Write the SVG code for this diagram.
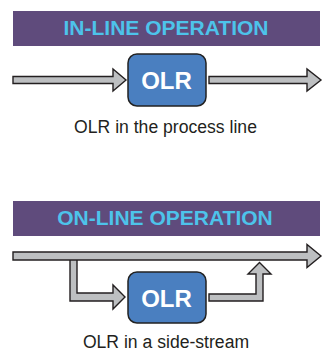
<svg xmlns="http://www.w3.org/2000/svg" width="329" height="352" viewBox="0 0 329 352">
<style>
.banner{fill:#5f4b7c}
.btxt{fill:#4dc3ea;font-family:"Liberation Sans",Arial,sans-serif;font-weight:bold;font-size:21px;text-anchor:middle}
.box{fill:#4a7fc0;stroke:#222;stroke-width:1.5}
.otxt{fill:#fff;font-family:"Liberation Sans",Arial,sans-serif;font-weight:bold;font-size:24px;text-anchor:middle}
.cap{fill:#231f20;font-family:"Liberation Sans",Arial,sans-serif;font-size:17.6px;text-anchor:middle}
.arr{fill:#bdbfc1;stroke:#231f20;stroke-width:1.4;stroke-linejoin:miter}
</style>
<rect width="329" height="352" fill="#fff"/>
<g id="banner-inline">
<rect class="banner" x="13" y="11" width="307" height="35"/>
<text class="btxt" x="166" y="34.5">IN-LINE OPERATION</text>
</g>
<g id="banner-online">
<rect class="banner" x="13" y="201" width="307" height="35"/>
<text class="btxt" x="165" y="224.5">ON-LINE OPERATION</text>
</g>
<g id="connectors">
<polygon class="arr" points="13,76.5 113,76.5 113,69 126,80 113,91 113,83.5 13,83.5"/>
<polygon class="arr" points="209,76.5 307,76.5 307,69 321,80 307,91 307,83.5 209,83.5"/>
<polygon class="arr" points="70,258 70,301 113,301 113,309 125,297 113,285 113,293 77,293 77,258"/>
<polygon class="arr" points="13,252 307,252 307,244.5 321,256 307,267.5 307,260 13,260"/>
<polygon class="arr" points="209,294 256,294 256,274 248,274 259.5,262.5 271,274 263,274 263,301 209,301"/>
</g>
<g id="olr-inline">
<rect class="box" x="128" y="54" width="78" height="52" rx="9"/>
<text class="otxt" x="166.5" y="89">OLR</text>
</g>
<g id="olr-online">
<rect class="box" x="128" y="272" width="78" height="51" rx="9"/>
<text class="otxt" x="166.5" y="307">OLR</text>
</g>
<text class="cap" x="165.5" y="132.5">OLR in the process line</text>
<text class="cap" x="166" y="348">OLR in a side-stream</text>
</svg>
